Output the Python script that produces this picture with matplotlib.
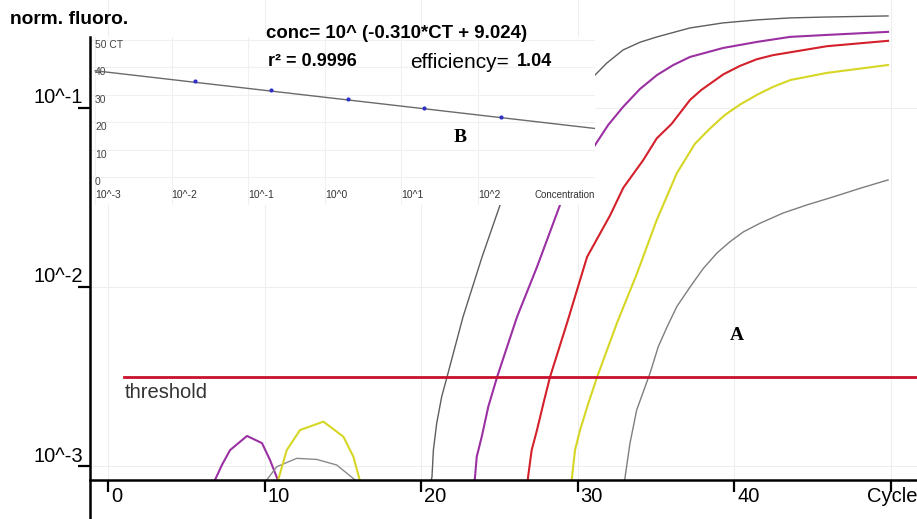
import numpy as np
import matplotlib
matplotlib.use('Agg')
import matplotlib.pyplot as plt
from matplotlib.ticker import NullLocator
from matplotlib.transforms import ScaledTranslation

plt.rcParams['font.family'] = ['Liberation Sans', 'DejaVu Sans']

# amplification curves: cycle number and log10(norm. fluoro.)
gray1_cyc = [20.6, 20.70, 20.79, 21.00, 21.32, 21.66, 22.68, 23.90, 25.05, 27.0, 29.0, 31.12, 31.86,
             32.91, 33.99, 35.08, 37.19, 39.30, 41.47, 43.58, 45.94, 49.84]
gray1_log = [-3.10, -3.061, -2.911, -2.762, -2.613, -2.503, -2.168, -1.832, -1.542, -1.20, -0.98,
             -0.816, -0.750, -0.676, -0.633, -0.603, -0.553, -0.525, -0.508, -0.497, -0.492, -0.486]

purple_cyc = [23.40, 23.45, 23.56, 23.88, 24.30, 24.86, 26.13, 27.41, 28.88, 30.0, 31.12, 31.96,
              32.91, 33.99, 35.08, 36.12, 37.19, 39.30, 41.47, 43.58, 45.94, 49.84]
purple_log = [-3.10, -3.061, -2.948, -2.836, -2.668, -2.503, -2.168, -1.888, -1.542, -1.37, -1.207,
              -1.095, -0.994, -0.894, -0.816, -0.760, -0.715, -0.665, -0.631, -0.603, -0.592, -0.575]

red_cyc = [26.8, 26.84, 27.07, 27.41, 27.82, 28.24, 29.33, 30.61, 32.08, 32.93, 34.2, 35.06, 36.0,
           37.19, 37.9, 39.32, 40.38, 41.45, 42.49, 45.94, 49.84]
red_log = [-3.10, -3.061, -2.911, -2.799, -2.650, -2.503, -2.201, -1.832, -1.60, -1.445, -1.291,
           -1.170, -1.09, -0.955, -0.90, -0.812, -0.765, -0.728, -0.705, -0.655, -0.625]

yellow_cyc = [29.6, 29.65, 29.84, 30.16, 30.69, 31.25, 32.52, 33.80, 35.06, 36.34, 37.5, 38.4, 39.4,
              40.4, 41.5, 42.5, 43.6, 45.94, 49.84]
yellow_log = [-3.10, -3.061, -2.911, -2.799, -2.650, -2.503, -2.201, -1.924, -1.626, -1.365, -1.20,
              -1.12, -1.04, -0.98, -0.925, -0.882, -0.844, -0.804, -0.760]

gray2_cyc = [33.0, 33.04, 33.35, 33.78, 34.63, 35.16, 35.72, 36.34, 37.19, 38.04, 38.91, 39.74, 40.58,
             41.66, 43.13, 44.64, 46.33, 48.05, 49.84]
gray2_log = [-3.10, -3.061, -2.873, -2.687, -2.482, -2.333, -2.223, -2.110, -2.0, -1.896, -1.810,
             -1.747, -1.693, -1.644, -1.587, -1.542, -1.497, -1.449, -1.402]

# noise bumps at the bottom
hump_purple_cyc = [6.72, 7.28, 7.80, 8.88, 9.84, 10.35, 10.95]
hump_purple_log = [-3.10, -2.994, -2.911, -2.832, -2.872, -2.966, -3.10]
hump_yellow_cyc = [10.8, 11.42, 12.27, 13.76, 15.04, 15.68, 16.15]
hump_yellow_log = [-3.10, -2.911, -2.799, -2.752, -2.836, -2.948, -3.10]
hump_gray_cyc = [9.95, 10.78, 12.06, 13.33, 14.61, 16.1]
hump_gray_log = [-3.10, -3.004, -2.957, -2.963, -2.994, -3.10]

threshold_log = -2.503
threshold_start = 1.0

x_ticks = [0, 10, 20, 30, 40, 50]
x_ticklabels = ['0', '10', '20', '30', '40', '']
y_ticks = [1e-3, 1e-2, 1e-1]
y_ticklabels = ['10^-3', '10^-2', '10^-1']

# standard curve (inset)
std_conc = [0.02, 0.2, 2, 20, 200]
std_ct = [34.9, 31.6, 28.4, 25.1, 21.8]
fit_slope = -0.310
fit_icpt = 9.024
inset_xticks = [1e-3, 1e-2, 1e-1, 1e0, 1e1, 1e2]
inset_xticklabels = ['10^-3', '10^-2', '10^-1', '10^0', '10^1', '10^2']
inset_yticks = [0, 10, 20, 30, 40, 50]
inset_yticklabels = ['0', '10', '20', '30', '40', '50 CT']

W, H = 917, 519
fig = plt.figure(figsize=(W / 100, H / 100), dpi=100)


def px_box(l, t, r, b):
    return [l / W, 1 - b / H, (r - l) / W, (b - t) / H]


def fx(x):
    return x / W


def fy(y):
    return 1 - y / H


# main amplification plot
ax = fig.add_axes(px_box(90, 0, 917, 480))
ax.set_yscale('log')
xlim = (-1.15, 51.69)
ax.set_xlim(*xlim)
ax.set_ylim(10 ** -3.078, 10 ** -0.397)
ax.set_axisbelow(True)
ax.grid(True, color='#eeeeee', lw=0.8)

curves = [
    (hump_purple_cyc, hump_purple_log, '#9a30a2', 1.5),
    (hump_gray_cyc, hump_gray_log, '#8a8a8a', 1.0),
    (hump_yellow_cyc, hump_yellow_log, '#d6d624', 1.5),
    (gray1_cyc, gray1_log, '#5e5e5e', 1.0),
    (purple_cyc, purple_log, '#9a30a2', 1.5),
    (red_cyc, red_log, '#d4202a', 1.5),
    (yellow_cyc, yellow_log, '#d6d624', 1.5),
    (gray2_cyc, gray2_log, '#7e7e7e', 1.0),
]
for cyc, lg, col, lw in curves:
    ax.plot(cyc, np.power(10.0, lg), color=col, lw=lw, solid_joinstyle='round')

thr_xmin = (threshold_start - xlim[0]) / (xlim[1] - xlim[0])
ax.axhline(10 ** threshold_log, xmin=thr_xmin, color='#c8102e', lw=2.0)
ax.annotate('threshold', xy=(threshold_start, 10 ** threshold_log), xytext=(1, -4),
            textcoords='offset points', ha='left', va='top', fontsize=14.5, color='#333333')

for s in ['top', 'right']:
    ax.spines[s].set_visible(False)
ax.spines['left'].set_linewidth(1.8)
ax.spines['bottom'].set_linewidth(1.8)
ax.spines['left'].set_bounds(10 ** -3.30, 10 ** -0.603)

ax.set_xticks(x_ticks)
ax.set_xticklabels(x_ticklabels)
ax.set_yticks(y_ticks)
ax.set_yticklabels(y_ticklabels)
ax.yaxis.set_minor_locator(NullLocator())
ax.tick_params(axis='both', direction='out', length=8.6, width=1.6, pad=-3.6,
               labelsize=14.5, colors='black')
for lab in ax.get_xticklabels():
    lab.set_ha('left')
    lab.set_transform(lab.get_transform() + ScaledTranslation(0.03, 0, fig.dpi_scale_trans))
for lab in ax.get_yticklabels():
    lab.set_transform(lab.get_transform() + ScaledTranslation(0, 0.12, fig.dpi_scale_trans))
ax.set_xlabel('Cycle', fontsize=14.5, ha='right', va='center')
ax.xaxis.set_label_coords(1.0, -17 / 480)

# standard curve inset
ax_in = fig.add_axes(px_box(92, 37, 595, 205))
ax_in.set_xscale('log')
ax_in.set_xlim(10 ** -3.04, 10 ** 3.53)
ax_in.set_ylim(-10.2, 51.1)
ax_in.set_facecolor('white')
for s in ax_in.spines.values():
    s.set_visible(False)
ax_in.set_axisbelow(True)
ax_in.grid(True, color='#f0f0f0', lw=0.8)

fit_conc = np.array([inset_xticks[0], ax_in.get_xlim()[1]])
fit_ct = (np.log10(fit_conc) - fit_icpt) / fit_slope
ax_in.plot(fit_conc, fit_ct, color='#6a6a6a', lw=1.0)
ax_in.plot(std_conc, std_ct, 'o', ms=3, color='#3030c8', mec='none')

ax_in.set_xticks(inset_xticks)
ax_in.set_xticklabels(inset_xticklabels)
ax_in.xaxis.set_minor_locator(NullLocator())
ax_in.set_yticks(inset_yticks)
ax_in.set_yticklabels(inset_yticklabels)
ax_in.tick_params(axis='x', length=0, pad=-10.8, labelsize=7.5, labelcolor='#333333')
ax_in.tick_params(axis='y', length=0, pad=-2.2, labelsize=7.5, labelcolor='#444444')
for lab in ax_in.get_xticklabels():
    lab.set_ha('left')
for lab in ax_in.get_yticklabels():
    lab.set_ha('left')
    lab.set_va('top')
ax_in.text(1.0, (205 - 195) / 168, 'Concentration', transform=ax_in.transAxes,
           ha='right', va='center', fontsize=7, color='#333333')

# texts
fig.text(fx(10), fy(20), 'norm. fluoro.', ha='left', va='center', fontsize=13.8, fontweight='bold')
fig.text(fx(266), fy(33), 'conc= 10^ (-0.310*CT + 9.024)', ha='left', va='center',
         fontsize=13.4, fontweight='bold')
fig.text(fx(268), fy(62), 'r² = 0.9996', ha='left', va='center', fontsize=13, fontweight='bold')
fig.text(fx(410), fy(62), 'efficiency=', ha='left', va='center', fontsize=15)
fig.text(fx(517), fy(62), '1.04', ha='left', va='center', fontsize=13, fontweight='bold')
fig.text(fx(460), fy(138), 'B', ha='center', va='center', fontsize=14, fontweight='bold',
         family='Liberation Serif')
fig.text(fx(737), fy(335), 'A', ha='center', va='center', fontsize=14, fontweight='bold',
         family='Liberation Serif')

plt.savefig('out.png', dpi=100)
